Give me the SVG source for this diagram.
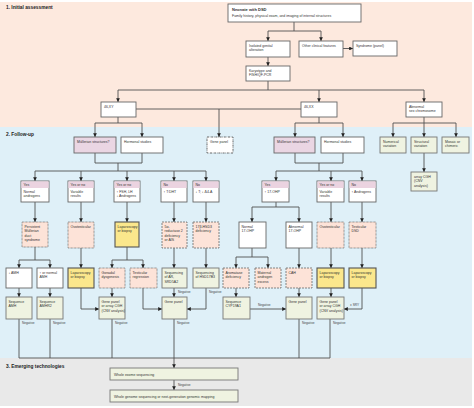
<svg xmlns="http://www.w3.org/2000/svg" width="474" height="408" viewBox="0 0 474 408">
<defs>
<marker id="ah" viewBox="0 0 6 6" refX="6" refY="3" markerWidth="3.8" markerHeight="3.8" markerUnits="userSpaceOnUse" orient="auto"><path d="M0,0 L6,3 L0,6 z" fill="#222"/></marker>
<style>
text{font-family:"Liberation Sans",Arial,sans-serif;font-size:3.5px;fill:#333}
.h{font-size:4.8px;font-weight:bold;fill:#222}
.bd{font-weight:bold;font-size:4px}
.n{font-size:3.2px;fill:#444}
.w{fill:#fff;stroke:#666;stroke-width:0.9}
.mu{fill:#ead6e3;stroke:#666;stroke-width:0.9}
.hd{fill:#ebd3e0}
.dot{fill:#fde3d8;stroke:#666;stroke-width:0.9;stroke-dasharray:0.7 0.7}
.dsh{fill:#fde3d8;stroke:#777;stroke-width:0.9;stroke-dasharray:2 1}
.dd{fill:#fff;stroke:#444;stroke-width:0.8;stroke-dasharray:2 0.8 0.6 0.8}
.y{fill:#fbe78c;stroke:#555;stroke-width:1.1}
.g{fill:#eff3e1;stroke:#777;stroke-width:0.9}
.c path{fill:none;stroke:#505050;stroke-width:0.9}
.c .a{marker-end:url(#ah)}
</style>
</defs>
<rect x="0" y="0" width="474" height="408" fill="#fff"/>
<rect x="0" y="2" width="472" height="125" fill="#fde9de"/>
<rect x="0" y="127" width="472" height="231" fill="#dff0f8"/>
<rect x="0" y="358" width="472" height="48" fill="#e9e9e9"/>
<text class="h" x="6" y="9">1. Initial assessment</text>
<text class="h" x="6" y="136">2. Follow-up</text>
<text class="h" x="6" y="368">3. Emerging technologies</text>

<g class="c">
<path class="a" d="M294,22 V31 H268 V41"/>
<path class="a" d="M294,31 H321 V41"/>
<path class="a" d="M343,48.5 H353"/>
<path class="a" d="M268,57 V66"/>
<path class="a" d="M268,81 V90 H118 V102"/>
<path class="a" d="M268,90 H424 V102"/>
<path class="a" d="M319,90 V102"/>
<path d="M136,109 H301"/>
<path class="a" d="M219,109 V137"/>
<path class="a" d="M118,117 V123 H95 V137"/>
<path class="a" d="M118,123 H142 V137"/>
<path d="M95,153 V163 H142 V153 M118,163 V171"/>
<path class="a" d="M118,171 H35 V181"/>
<path class="a" d="M118,171 H206 V181"/>
<path class="a" d="M81,171 V181"/>
<path class="a" d="M127,171 V181"/>
<path class="a" d="M174,171 V181"/>
<path class="a" d="M319,117 V123 H295 V137"/>
<path class="a" d="M319,123 H343 V137"/>
<path d="M295,153 V163 H343 V153 M319,163 V171"/>
<path class="a" d="M319,171 H276 V181"/>
<path class="a" d="M319,171 H362 V181"/>
<path class="a" d="M331,171 V181"/>
<path class="a" d="M424,117 V123 H393 V137"/>
<path class="a" d="M424,123 H456 V137"/>
<path class="a" d="M424,123 V137"/>
<path class="a" d="M424,153 V172"/>
<path class="a" d="M35,202 V222"/>
<path class="a" d="M81,202 V222"/>
<path class="a" d="M127,202 V222"/>
<path class="a" d="M174,202 V222"/>
<path class="a" d="M206,202 V222"/>
<path class="a" d="M276,202 V207 H252 V222"/>
<path class="a" d="M276,207 H299 V222"/>
<path class="a" d="M331,202 V222"/>
<path class="a" d="M362,202 V222"/>
<path class="a" d="M35,247 V260 H19 V268"/>
<path class="a" d="M35,260 H50 V268"/>
<path class="a" d="M81,248 V268"/>
<path class="a" d="M127,247 V260 H112 V268"/>
<path class="a" d="M127,260 H143 V268"/>
<path class="a" d="M174,248 V268"/>
<path class="a" d="M206,248 V268"/>
<path class="a" d="M252,248 V257 H236 V268"/>
<path class="a" d="M252,257 H268 V268"/>
<path class="a" d="M299,248 V268"/>
<path class="a" d="M331,248 V268"/>
<path class="a" d="M362,248 V268"/>
<path class="a" d="M19,288 V297"/>
<path class="a" d="M50,288 V297"/>
<path class="a" d="M81,288 V309 H99"/>
<path class="a" d="M112,288 V297"/>
<path class="a" d="M143,288 V309 H162"/>
<path class="a" d="M174,288 V297"/>
<path class="a" d="M206,288 V309 H187"/>
<path class="a" d="M236,288 V297"/>
<path class="a" d="M299,288 V297"/>
<path class="a" d="M250,309 H286"/>
<path class="a" d="M331,288 V297"/>
<path class="a" d="M362,288 V309 H344"/>
<path d="M19,319 V358 H330 V319 M50,319 V358 M112,319 V358 M299,319 V358"/>
<path class="a" d="M174,319 V368"/>
<path class="a" d="M174,380 V390"/>
<text class="n" x="22" y="324">Negative</text>
<text class="n" x="53" y="324">Negative</text>
<text class="n" x="115" y="324">Negative</text>
<text class="n" x="177" y="324">Negative</text>
<text class="n" x="302" y="324">Negative</text>
<text class="n" x="333" y="324">Negative</text>
<text class="n" x="178" y="293">Negative</text>
<text class="n" x="209" y="293">Negative</text>
<text class="n" x="258" y="306">Negative</text>
<text class="n" x="178" y="386">Negative</text>
<text class="n" x="350" y="306">± SRY</text>
</g>

<g id="neonate"><rect class="w" x="228" y="4" width="133" height="18"/><text class="bd" x="232" y="11">Neonate with DSD</text><text x="232" y="17">Family history, physical exam, and imaging of internal structures</text></g>
<g id="isolated"><rect class="w" x="246" y="41" width="44" height="16"/><text x="249" y="46.5">Isolated genital</text><text x="249" y="51">alteration</text></g>
<g id="other"><rect class="w" x="299" y="41" width="44" height="16"/><text x="302" y="46.5">Other clinical features</text></g>
<g id="syndrome"><rect class="w" x="353" y="41" width="44" height="15"/><text x="356" y="46.5">Syndrome (panel)</text></g>
<g id="karyotype"><rect class="w" x="246" y="66" width="44" height="15"/><text x="249" y="71.5">Karyotype and</text><text x="249" y="76">FISH/QF-PCR</text></g>
<g id="xy"><rect class="w" x="101" y="102" width="35" height="15"/><text x="104" y="107.5">46,XY</text></g>
<g id="xx"><rect class="w" x="301" y="102" width="36" height="15"/><text x="304" y="107.5">46,XX</text></g>
<g id="abn"><rect class="w" x="406" y="102" width="36" height="15"/><text x="409" y="107.5">Abnormal</text><text x="409" y="112">sex chromosome</text></g>
<g id="genepanel0"><rect class="dd" x="207" y="137" width="26" height="16"/><text x="210" y="142.5">Gene panel</text></g>
<g id="mul-xy"><rect class="mu" x="74" y="137" width="42" height="16"/><text x="77" y="142.5">Müllerian structures?</text></g>
<g id="hor-xy"><rect class="w" x="121" y="137" width="42" height="16"/><text x="124" y="142.5">Hormonal studies</text></g>
<g id="mul-xx"><rect class="mu" x="274" y="137" width="41" height="16"/><text x="277" y="142.5">Müllerian structures?</text></g>
<g id="hor-xx"><rect class="w" x="321" y="137" width="43" height="16"/><text x="324" y="142.5">Hormonal studies</text></g>
<g id="numerical"><rect class="g" x="380" y="137" width="26" height="16"/><text x="383" y="142.5">Numerical</text><text x="383" y="147">variation</text></g>
<g id="structural"><rect class="g" x="411" y="137" width="26" height="16"/><text x="414" y="142.5">Structural</text><text x="414" y="147">variation</text></g>
<g id="mosaic"><rect class="g" x="442" y="137" width="27" height="16"/><text x="445" y="142.5">Mosaic or</text><text x="445" y="147">chimeric</text></g>
<g id="acgh"><rect class="g" x="411" y="172" width="26" height="19"/><text x="414" y="177.5">array CGH</text><text x="414" y="182">(CNV</text><text x="414" y="186.5">analysis)</text></g>

<g id="r1"><rect class="w" x="21" y="181" width="28" height="21"/><rect class="hd" x="21.4" y="181.4" width="27.2" height="6.6"/><text x="23.5" y="186">Yes</text><text x="23.5" y="192.5">Normal</text><text x="23.5" y="197">androgens</text></g>
<g id="r2"><rect class="w" x="68" y="181" width="26" height="21"/><rect class="hd" x="68.4" y="181.4" width="25.2" height="6.6"/><text x="70.5" y="186">Yes or no</text><text x="70.5" y="192.5">Variable</text><text x="70.5" y="197">results</text></g>
<g id="r3"><rect class="w" x="114" y="181" width="26" height="21"/><rect class="hd" x="114.4" y="181.4" width="25.2" height="6.6"/><text x="116.5" y="186">Yes or no</text><text x="116.5" y="192.5">↑ FSH, LH</text><text x="116.5" y="197">↓ Androgens</text></g>
<g id="r4"><rect class="w" x="161" y="181" width="26" height="21"/><rect class="hd" x="161.4" y="181.4" width="25.2" height="6.6"/><text x="163.5" y="186">No</text><text x="163.5" y="192.5">↑ T:DHT</text></g>
<g id="r5"><rect class="w" x="193" y="181" width="26" height="21"/><rect class="hd" x="193.4" y="181.4" width="25.2" height="6.6"/><text x="195.5" y="186">No</text><text x="195.5" y="192.5">↓ T; ↓ Δ4-A</text></g>
<g id="r6"><rect class="w" x="262" y="181" width="27" height="21"/><rect class="hd" x="262.4" y="181.4" width="26.2" height="6.6"/><text x="264.5" y="186">Yes</text><text x="264.5" y="192.5">↑ 17-OHP</text></g>
<g id="r7"><rect class="w" x="317" y="181" width="27" height="21"/><rect class="hd" x="317.4" y="181.4" width="26.2" height="6.6"/><text x="319.5" y="186">Yes or no</text><text x="319.5" y="192.5">Variable</text><text x="319.5" y="197">results</text></g>
<g id="r8"><rect class="w" x="349" y="181" width="27" height="21"/><rect class="hd" x="349.4" y="181.4" width="26.2" height="6.6"/><text x="351.5" y="186">No</text><text x="351.5" y="192.5">↑ Androgens</text></g>

<g id="pmds"><rect class="dot" x="22" y="222" width="26" height="25"/><text x="24.5" y="227.5">Persistent</text><text x="24.5" y="232">Müllerian</text><text x="24.5" y="236.5">duct</text><text x="24.5" y="241">syndrome</text></g>
<g id="ovo1"><rect class="dot" x="68" y="222" width="26" height="26"/><text x="70.5" y="227.5">Ovotesticular</text></g>
<g id="lap1"><rect class="y" x="115" y="222" width="24" height="25"/><text x="117.5" y="227.5">Laparoscopy</text><text x="117.5" y="232">or biopsy</text></g>
<g id="srd"><rect class="dsh" x="162" y="222" width="25" height="26"/><text x="164.5" y="227.5">5α-</text><text x="164.5" y="232">reductase 2</text><text x="164.5" y="236.5">deficiency</text><text x="164.5" y="241">or AIS</text></g>
<g id="hsd"><rect class="dsh" x="193" y="222" width="26" height="26"/><text x="195.5" y="227.5">17β-HSD3</text><text x="195.5" y="232">deficiency</text></g>
<g id="n17"><rect class="w" x="239" y="222" width="27" height="26"/><text x="241.5" y="227.5">Normal</text><text x="241.5" y="232">17-OHP</text></g>
<g id="a17"><rect class="w" x="286" y="222" width="26" height="26"/><text x="288.5" y="227.5">Abnormal</text><text x="288.5" y="232">17-OHP</text></g>
<g id="ovo2"><rect class="dot" x="317" y="222" width="27" height="26"/><text x="319.5" y="227.5">Ovotesticular</text></g>
<g id="tdsd"><rect class="dot" x="349" y="222" width="27" height="26"/><text x="351.5" y="227.5">Testicular</text><text x="351.5" y="232">DSD</text></g>

<g id="amhlow"><rect class="w" x="6" y="268" width="26" height="20"/><text x="8.5" y="273.5">↓ AMH</text></g>
<g id="amhhigh"><rect class="w" x="37" y="268" width="26" height="20"/><text x="39.5" y="273.5">↑ or normal</text><text x="39.5" y="278">AMH</text></g>
<g id="lap2"><rect class="y" x="68" y="268" width="26" height="20"/><text x="70.5" y="273.5">Laparoscopy</text><text x="70.5" y="278">or biopsy</text></g>
<g id="gonad"><rect class="dot" x="99" y="268" width="26" height="20"/><text x="101.5" y="273.5">Gonadal</text><text x="101.5" y="278">dysgenesis</text></g>
<g id="treg"><rect class="dot" x="130" y="268" width="27" height="20"/><text x="132.5" y="273.5">Testicular</text><text x="132.5" y="278">regression</text></g>
<g id="seqar"><rect class="g" x="162" y="268" width="25" height="20"/><text x="164.5" y="273.5">Sequencing</text><text x="164.5" y="278">of AR,</text><text x="164.5" y="282.5">SRD5A2</text></g>
<g id="seqhsd"><rect class="g" x="193" y="268" width="26" height="20"/><text x="195.5" y="273.5">Sequencing</text><text x="195.5" y="278">of HSD17B3</text></g>
<g id="arom"><rect class="dsh" x="223" y="268" width="26" height="20"/><text x="225.5" y="273.5">Aromatase</text><text x="225.5" y="278">deficiency</text></g>
<g id="mat"><rect class="dsh" x="255" y="268" width="26" height="20"/><text x="257.5" y="273.5">Maternal</text><text x="257.5" y="278">androgen</text><text x="257.5" y="282.5">excess</text></g>
<g id="cah"><rect class="dsh" x="286" y="268" width="26" height="20"/><text x="288.5" y="273.5">CAH</text></g>
<g id="lap3"><rect class="y" x="317" y="268" width="27" height="20"/><text x="319.5" y="273.5">Laparoscopy</text><text x="319.5" y="278">or biopsy</text></g>
<g id="lap4"><rect class="y" x="349" y="268" width="27" height="20"/><text x="351.5" y="273.5">Laparoscopy</text><text x="351.5" y="278">or biopsy</text></g>

<g id="seqamh"><rect class="g" x="6" y="297" width="26" height="22"/><text x="8.5" y="302.5">Sequence</text><text x="8.5" y="307">AMH</text></g>
<g id="seqamhr2"><rect class="g" x="37" y="297" width="26" height="22"/><text x="39.5" y="302.5">Sequence</text><text x="39.5" y="307">AMHR2</text></g>
<g id="gp1"><rect class="g" x="99" y="297" width="26" height="22"/><text x="101.5" y="302.5">Gene panel</text><text x="101.5" y="307">or array CGH</text><text x="101.5" y="311.5">(CNV analysis)</text></g>
<g id="gp2"><rect class="g" x="162" y="297" width="25" height="22"/><text x="164.5" y="302.5">Gene panel</text></g>
<g id="seqcyp"><rect class="g" x="223" y="297" width="27" height="22"/><text x="225.5" y="302.5">Sequence</text><text x="225.5" y="307">CYP19A1</text></g>
<g id="gp3"><rect class="g" x="286" y="297" width="26" height="22"/><text x="288.5" y="302.5">Gene panel</text></g>
<g id="gp4"><rect class="g" x="317" y="297" width="27" height="22"/><text x="319.5" y="302.5">Gene panel</text><text x="319.5" y="307">or array CGH</text><text x="319.5" y="311.5">(CNV analysis)</text></g>

<g id="wes"><rect class="g" x="110" y="368" width="128" height="12"/><text x="114" y="375.5">Whole exome sequencing</text></g>
<g id="wgs"><rect class="g" x="110" y="390" width="128" height="12"/><text x="114" y="397.5">Whole genome sequencing or next-generation genomic mapping</text></g>
</svg>
